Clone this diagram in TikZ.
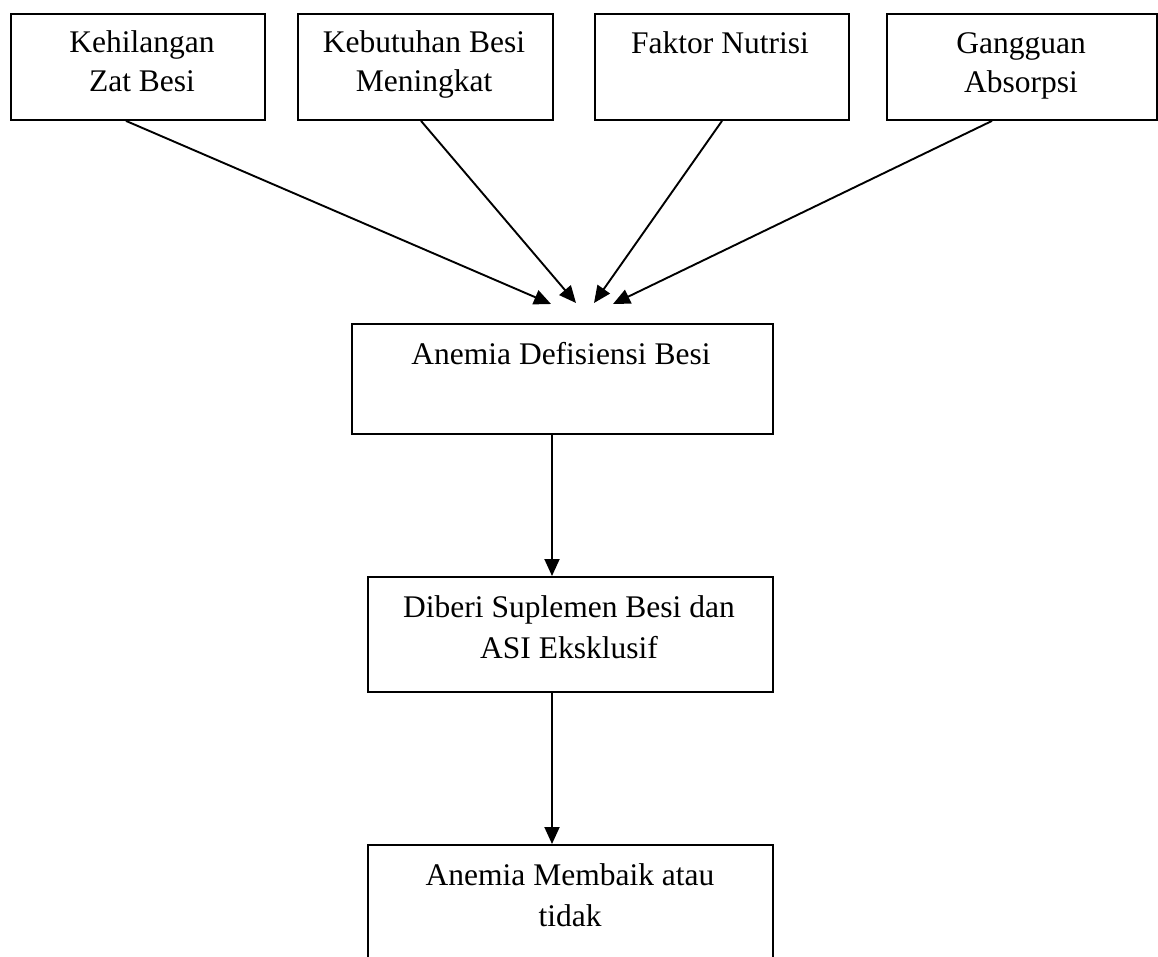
\documentclass[tikz,border=0pt]{standalone}
\usepackage{fontspec}
\setmainfont{Liberation Serif}
\usetikzlibrary{arrows.meta,calc}
\begin{document}
\begin{tikzpicture}[x=1pt,y=-1pt,
  boxnode/.style={draw, line width=1.9pt, inner sep=0pt, anchor=north west},
  txt/.style={font=\fontsize{31.5}{#1}\selectfont, align=center, inner sep=0pt, anchor=north},
  txt/.default=39,
  arr/.style={line width=1.9pt, -{Triangle[length=17pt,width=15pt]}}]
\useasboundingbox (0,0) rectangle (1158,957);
\clip (0,0) rectangle (1158,957);
% boxes
\node[boxnode, minimum width=254pt, minimum height=106pt] (b1) at (10,13) {};
\node[boxnode, minimum width=255pt, minimum height=106pt] (b2) at (297,13) {};
\node[boxnode, minimum width=254pt, minimum height=106pt] (b3) at (594,13) {};
\node[boxnode, minimum width=270pt, minimum height=106pt] (b4) at (886,13) {};
\node[boxnode, minimum width=421pt, minimum height=110pt] (b5) at (351,323) {};
\node[boxnode, minimum width=405pt, minimum height=115pt] (b6) at (367,576) {};
\node[boxnode, minimum width=405pt, minimum height=160pt] (b7) at (367,844) {};
% texts
\node[txt] (t1) at (142,27) {\rule{0pt}{25pt}Kehilangan\\Zat Besi};
\node[txt] (t2) at (424,27) {\rule{0pt}{25pt}Kebutuhan Besi\\Meningkat};
\node[txt] (t3) at (720,28) {\rule{0pt}{25pt}Faktor Nutrisi};
\node[txt] (t4) at (1021,28) {\rule{0pt}{25pt}Gangguan\\Absorpsi};
\node[txt] (t5) at (561,339) {\rule{0pt}{25pt}Anemia Defisiensi Besi};
\node[txt=41] (t6) at (569,592) {\rule{0pt}{25pt}Diberi Suplemen Besi dan\\ASI Eksklusif};
\node[txt=41] (t7) at (570,860) {\rule{0pt}{25pt}Anemia Membaik atau\\tidak};
% coordinates
\coordinate (s1) at (126,0);
\coordinate (s2) at (421,0);
\coordinate (s3) at (722,0);
\coordinate (s4) at (992,0);
\coordinate (e1) at (551,304);
\coordinate (e2) at (576,303);
\coordinate (e3) at (594,303);
\coordinate (e4) at (613,304);
\coordinate (ax) at (552,0);
% connectors
\draw[arr] (b1.south -| s1) -- (e1);
\draw[arr] (b2.south -| s2) -- (e2);
\draw[arr] (b3.south -| s3) -- (e3);
\draw[arr] (b4.south -| s4) -- (e4);
\draw[arr] (b5.south -| ax) -- (b6.north -| ax);
\draw[arr] (b6.south -| ax) -- (b7.north -| ax);
\end{tikzpicture}
\end{document}
